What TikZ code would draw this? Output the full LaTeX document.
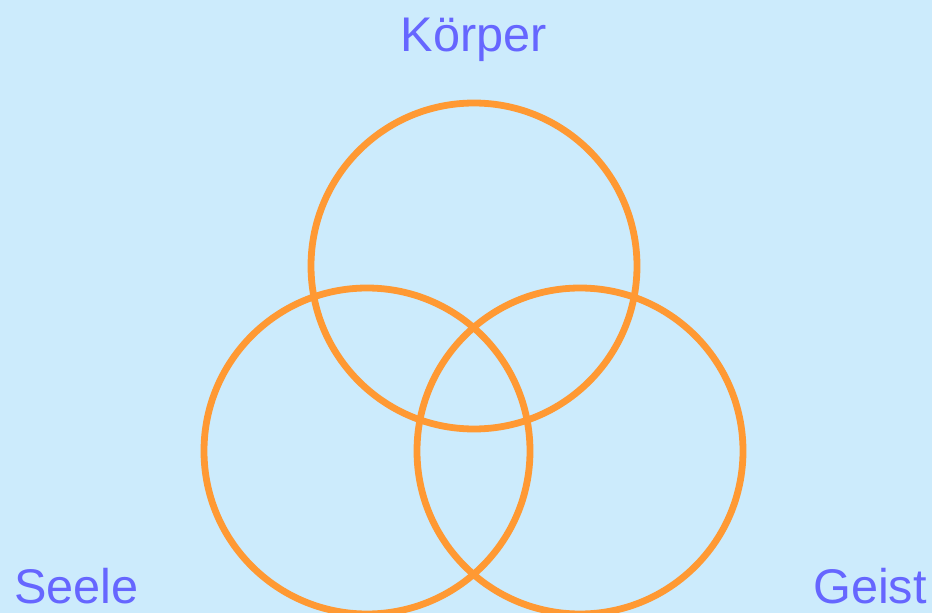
\documentclass[tikz,border=0pt]{standalone}
\usepackage{fontspec}
\setmainfont{Liberation Sans}
\definecolor{bgblue}{HTML}{CCEBFC}
\definecolor{ringorange}{HTML}{FF9933}
\definecolor{labelblue}{HTML}{6666FF}
\begin{document}
\begin{tikzpicture}[x=0.75pt,y=-0.75pt,
  ring/.style={circle, draw=ringorange, line width=5.1pt, inner sep=0pt, minimum size=244.5pt},
  lbl/.style={text=labelblue, font=\fontsize{36.5pt}{42pt}\selectfont, inner sep=0pt}]
\fill[bgblue] (0,0) rectangle (932,613);
\useasboundingbox (0,0) rectangle (932,613);
\node[ring] (koerper) at (474,266) {};
\node[ring] (seele) at (367,451) {};
\node[ring] (geist) at (580,451) {};
\node[lbl, anchor=base] (tk) at (474,52) {Körper};
\node[lbl, anchor=base west] (ts) at (14,603) {Seele};
\node[lbl, anchor=base east] (tg) at (927,603) {Geist};
\end{tikzpicture}
\end{document}
